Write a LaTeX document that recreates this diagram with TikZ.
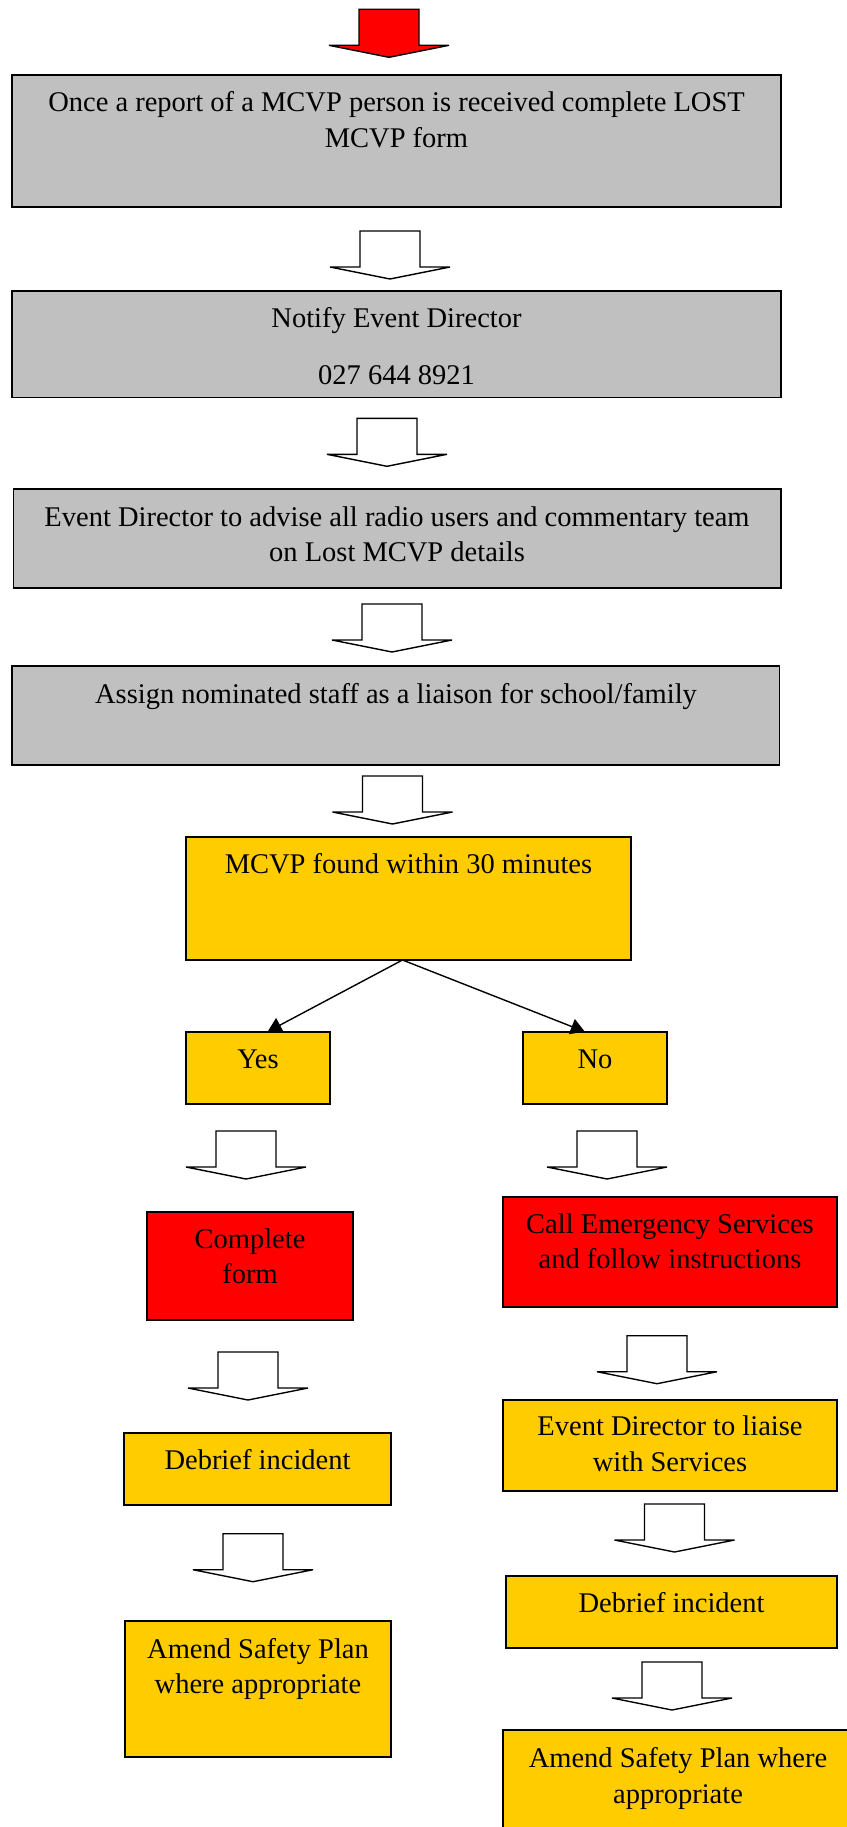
\documentclass[tikz,border=0pt]{standalone}
\usepackage{fontspec}
\setmainfont{Liberation Serif}
\usetikzlibrary{arrows.meta}
\definecolor{boxgray}{HTML}{C0C0C0}
\definecolor{boxyellow}{HTML}{FFCC00}
\definecolor{boxred}{HTML}{FF0000}
\newcommand\mystrut{\rule{0pt}{20pt}}
\newcommand\blockarrow[3]{%
  \filldraw[blk, fill=#3] ({#1-30},{#2}) -- ({#1+30},{#2}) -- ({#1+30},{#2+36}) -- ({#1+60},{#2+36})
    -- ({#1},{#2+48}) -- ({#1-60},{#2+36}) -- ({#1-30},{#2+36}) -- cycle;}
\begin{document}
\begin{tikzpicture}[x=1pt,y=-1pt,
  box/.style={draw=black, line width=1.6pt, inner sep=0pt, outer sep=0pt, anchor=north west},
  graybox/.style={box, fill=boxgray},
  yellowbox/.style={box, fill=boxyellow},
  redbox/.style={box, fill=boxred},
  txt/.style={anchor=north, inner sep=0pt, outer sep=0pt, align=center, font=\fontsize{28.5}{35.5}\selectfont},
  blk/.style={draw=black, line width=1.4pt, line join=miter},
  conn/.style={draw=black, line width=1.4pt, -{Triangle[length=14pt,width=16pt]}}
]
\useasboundingbox[fill=white] (0,0) rectangle (846,1827);

% block arrows
\blockarrow{389}{9.3}{boxred}
\blockarrow{390}{231}{white}
\blockarrow{387}{418.3}{white}
\blockarrow{392}{604}{white}
\blockarrow{392.5}{776}{white}
\blockarrow{246}{1131}{white}
\blockarrow{607}{1131}{white}
\blockarrow{248}{1352}{white}
\blockarrow{657}{1335.7}{white}
\blockarrow{674.5}{1504}{white}
\blockarrow{253}{1533.7}{white}
\blockarrow{672}{1662}{white}

% boxes
\node[graybox, minimum width=769pt, minimum height=132pt] (b1) at (12,75) {};
\node[graybox, minimum width=769pt, minimum height=106.6pt] (b2) at (12,290.7) {};
\node[graybox, minimum width=767.5pt, minimum height=99pt] (b3) at (13.5,489) {};
\node[graybox, minimum width=767.5pt, minimum height=99.3pt] (b4) at (12,665.7) {};
\node[yellowbox, minimum width=445pt, minimum height=123.3pt] (b5) at (186,836.7) {};
\node[yellowbox, minimum width=144pt, minimum height=72.3pt] (yes) at (186,1031.7) {};
\node[yellowbox, minimum width=144.3pt, minimum height=72.3pt] (no) at (522.7,1031.7) {};
\node[redbox, minimum width=206pt, minimum height=108pt] (cf) at (147,1212) {};
\node[redbox, minimum width=334pt, minimum height=110pt] (ce) at (503,1196.7) {};
\node[yellowbox, minimum width=267pt, minimum height=72.3pt] (dl) at (124,1432.7) {};
\node[yellowbox, minimum width=334pt, minimum height=90.7pt] (el) at (503,1400) {};
\node[yellowbox, minimum width=331pt, minimum height=72pt] (dr) at (506,1575.7) {};
\node[yellowbox, minimum width=266pt, minimum height=136pt] (al) at (125,1621) {};
\node[yellowbox, minimum width=350pt, minimum height=120pt] (ar) at (503,1730) {};

% texts
\node[txt] (t1) at (396.5,91.7) {\mystrut Once a report of a MCVP person is received complete LOST\\MCVP form};
\node[txt] (t2) at (396.5,307) {\mystrut Notify Event Director\\[21.5pt]027 644 8921};
\node[txt] (t3) at (397,506) {\mystrut Event Director to advise all radio users and commentary team\\on Lost MCVP details};
\node[txt] (t4) at (396,683.3) {\mystrut Assign nominated staff as a liaison for school/family};
\node[txt] (t5) at (408.5,853.3) {\mystrut MCVP found within 30 minutes};
\node[txt] (tyes) at (258,1048.3) {\mystrut Yes};
\node[txt] (tno) at (595,1048.3) {\mystrut No};
\node[txt] (tcf) at (250,1228.3) {\mystrut Complete\\form};
\node[txt] (tce) at (670,1213.3) {\mystrut Call Emergency Services\\and follow instructions};
\node[txt] (tdl) at (257.5,1449.3) {\mystrut Debrief incident};
\node[txt] (tel) at (670,1415.7) {\mystrut Event Director to liaise\\with Services};
\node[txt] (tdr) at (671.5,1592.7) {\mystrut Debrief incident};
\node[txt] (tal) at (258,1638.3) {\mystrut Amend Safety Plan\\where appropriate};
\node[txt] (tar) at (678,1747.7) {\mystrut Amend Safety Plan where\\appropriate};

% connectors
\draw[conn] ([xshift=-6pt]b5.south) -- ([xshift=9.6pt]yes.north);
\draw[conn] ([xshift=-6pt]b5.south) -- ([xshift=-10pt]no.north);
\end{tikzpicture}
\end{document}
